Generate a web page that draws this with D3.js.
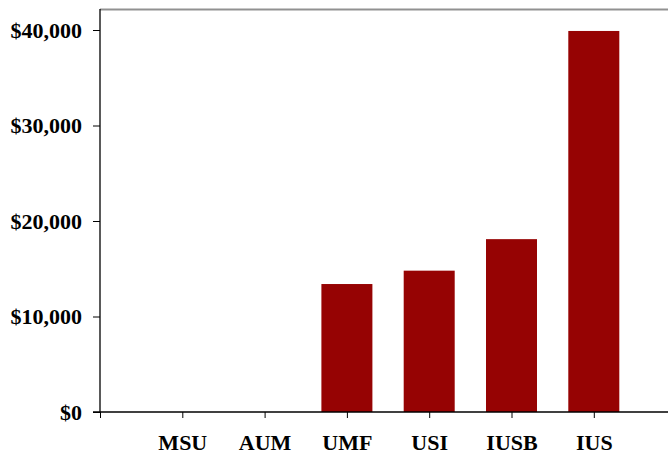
<!DOCTYPE html>
<html><head><meta charset="utf-8">
<script src="https://cdn.jsdelivr.net/npm/d3@7"></script>
<style>body{margin:0;background:#fff}svg{display:block}</style>
</head><body>
<svg id="c" width="668" height="456"></svg>
<script>
const categories = ["", "MSU", "AUM", "UMF", "USI", "IUSB", "IUS"];
const values = [null, 0, 0, 13400, 14800, 18100, 39900];
const yTicks = [0, 10000, 20000, 30000, 40000];

(function () {
const svg = d3.select("#c");
const mLeft = 100, mTop = 9, mBottom = 412, step = 82.3;
const x = d3.scalePoint().domain(categories).range([mLeft, mLeft + step * 6]);
const y = d3.scaleLinear().domain([0, 42200]).range([mBottom, mTop]);
const font = "'Liberation Serif','Times New Roman',serif";

// top border
svg.append("line").attr("x1", mLeft).attr("x2", 668).attr("y1", mTop + 0.5).attr("y2", mTop + 0.5)
  .attr("stroke", "#919191").attr("stroke-width", 2);

// bars
const bw = 51;
svg.selectAll("rect.bar").data(categories.map((c, i) => ({c, v: values[i]})).filter(d => d.v))
  .enter().append("rect").attr("class", "bar")
  .attr("x", d => x(d.c) - bw / 2).attr("width", bw)
  .attr("y", d => y(d.v)).attr("height", d => mBottom - y(d.v))
  .attr("fill", "#960303");

// y axis
const ya = svg.append("g").attr("transform", `translate(${mLeft},0)`)
  .call(d3.axisLeft(y).tickValues(yTicks).tickSize(7).tickPadding(11)
    .tickFormat(d => "$" + d3.format(",")(d)));
ya.select(".domain").remove();
ya.append("line").attr("x1", 0).attr("x2", 0).attr("y1", mTop).attr("y2", mBottom).attr("stroke", "#000").attr("stroke-width", 1.3);
ya.selectAll("text").attr("font-family", font).attr("font-weight", "bold").attr("font-size", 22).attr("fill", "#000");

// x axis
const xa = svg.append("g").attr("transform", `translate(0,${mBottom})`)
  .call(d3.axisBottom(x).tickSize(6).tickPadding(16));
xa.select(".domain").remove();
xa.append("line").attr("x1", mLeft - 7).attr("x2", 668).attr("y1", 0).attr("y2", 0).attr("stroke", "#000").attr("stroke-width", 1.3);
xa.selectAll("text").attr("font-family", font).attr("font-weight", "bold").attr("font-size", 22).attr("fill", "#000");
})();
</script>
</body></html>
